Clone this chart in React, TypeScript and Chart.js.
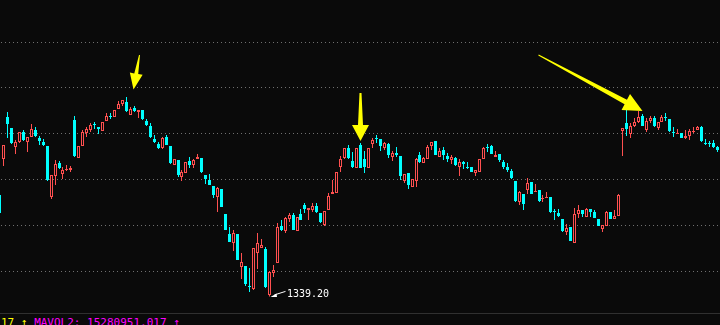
import React, { useEffect, useRef } from "react";
import { Chart, registerables, LinearScale } from "chart.js";

// linear scale that snaps pixel positions to pixel centres (crisp candles)
class SnapLinearScale extends LinearScale {
  static id = "snapLinear";
  static defaults = LinearScale.defaults;
  getPixelForValue(value: number) {
    return Math.floor(super.getPixelForValue(value)) + 0.5;
  }
}

Chart.register(...registerables, SnapLinearScale);

// ---- data (index order, left to right) ----
const opens = [
  1542, 1614, 1698, 1676, 1638, 1648, 1668, 1648, 1658, 1672,
  1656, 1648, 1640, 1538, 1580, 1606, 1584, 1592, 1592, 1692,
  1616, 1640, 1666, 1672, 1684, 1678, 1670, 1690, 1700, 1698,
  1714, 1724, 1728, 1702, 1716, 1708, 1712, 1690, 1680, 1654,
  1644, 1636, 1658, 1640, 1602, 1612, 1578, 1586, 1610, 1602,
  1614, 1616, 1582, 1572, 1560, 1538, 1554, 1504, 1464, 1446,
  1464, 1398, 1400, 1360, 1354, 1426, 1436, 1434, 1342, 1386,
  1406, 1480, 1470, 1494, 1502, 1470, 1504, 1522, 1512, 1512,
  1520, 1506, 1482, 1512, 1544, 1546, 1598, 1616, 1636, 1610,
  1596, 1642, 1614, 1596, 1644, 1656, 1654, 1636, 1644, 1618,
  1626, 1620, 1570, 1586, 1558, 1570, 1622, 1606, 1614, 1640,
  1650, 1618, 1632, 1620, 1612, 1616, 1598, 1608, 1598, 1598,
  1586, 1588, 1614, 1638, 1640, 1618, 1624, 1608, 1598, 1590,
  1570, 1528, 1544, 1552, 1568, 1548, 1552, 1534, 1536, 1538,
  1510, 1506, 1494, 1468, 1478, 1446, 1504, 1512, 1498, 1514,
  1508, 1494, 1474, 1480, 1508, 1494, 1500, 1670, 1686, 1664,
  1680, 1688, 1700, 1672, 1690, 1696, 1676, 1688, 1698, 1694,
  1668, 1664, 1666, 1656, 1660, 1668, 1672, 1678, 1646, 1646,
  1646, 1638,
];
const closes = [
  1506, 1642, 1684, 1646, 1648, 1668, 1652, 1658, 1674, 1660,
  1650, 1642, 1572, 1582, 1604, 1596, 1592, 1594, 1596, 1620,
  1640, 1668, 1674, 1682, 1682, 1674, 1688, 1700, 1698, 1712,
  1724, 1732, 1710, 1714, 1710, 1712, 1694, 1682, 1658, 1648,
  1636, 1656, 1642, 1606, 1614, 1582, 1588, 1608, 1602, 1612,
  1618, 1588, 1574, 1562, 1542, 1556, 1518, 1472, 1448, 1466,
  1412, 1408, 1364, 1358, 1436, 1446, 1442, 1358, 1388, 1392,
  1478, 1472, 1496, 1502, 1472, 1498, 1492, 1514, 1516, 1520,
  1508, 1488, 1510, 1540, 1548, 1588, 1614, 1636, 1616, 1598,
  1636, 1596, 1598, 1636, 1652, 1654, 1640, 1646, 1622, 1626,
  1622, 1580, 1584, 1562, 1574, 1614, 1608, 1616, 1638, 1648,
  1622, 1630, 1622, 1614, 1618, 1602, 1608, 1604, 1596, 1588,
  1592, 1614, 1636, 1636, 1624, 1622, 1612, 1598, 1592, 1576,
  1530, 1548, 1524, 1566, 1544, 1550, 1530, 1536, 1538, 1508,
  1508, 1500, 1470, 1476, 1450, 1504, 1512, 1504, 1514, 1508,
  1496, 1480, 1482, 1508, 1494, 1500, 1542, 1676, 1674, 1680,
  1688, 1698, 1680, 1690, 1696, 1680, 1688, 1698, 1696, 1670,
  1666, 1666, 1656, 1660, 1670, 1670, 1678, 1650, 1644, 1644,
  1638, 1632,
];
const highs = [
  1542, 1642, 1708, 1676, 1652, 1668, 1672, 1658, 1684, 1678,
  1660, 1654, 1640, 1582, 1612, 1610, 1598, 1602, 1600, 1700,
  1640, 1672, 1678, 1686, 1688, 1678, 1688, 1706, 1706, 1712,
  1730, 1732, 1738, 1718, 1720, 1712, 1712, 1694, 1686, 1662,
  1648, 1658, 1662, 1640, 1614, 1612, 1592, 1608, 1618, 1614,
  1624, 1616, 1582, 1584, 1560, 1558, 1554, 1504, 1478, 1472,
  1464, 1426, 1400, 1396, 1436, 1466, 1454, 1438, 1390, 1402,
  1486, 1492, 1498, 1506, 1506, 1498, 1514, 1526, 1516, 1526,
  1526, 1506, 1510, 1546, 1572, 1588, 1620, 1636, 1642, 1628,
  1636, 1646, 1630, 1636, 1656, 1662, 1654, 1648, 1646, 1630,
  1638, 1620, 1584, 1586, 1574, 1616, 1628, 1618, 1642, 1648,
  1650, 1636, 1638, 1626, 1622, 1618, 1614, 1610, 1608, 1598,
  1592, 1614, 1638, 1644, 1642, 1630, 1624, 1612, 1606, 1594,
  1570, 1550, 1544, 1576, 1568, 1564, 1552, 1542, 1548, 1538,
  1514, 1514, 1494, 1484, 1478, 1516, 1522, 1512, 1516, 1514,
  1512, 1494, 1482, 1510, 1508, 1512, 1544, 1676, 1712, 1686,
  1696, 1710, 1704, 1696, 1700, 1700, 1688, 1702, 1706, 1694,
  1678, 1674, 1666, 1672, 1674, 1678, 1680, 1680, 1654, 1650,
  1652, 1640,
];
const lows = [
  1506, 1600, 1656, 1644, 1624, 1646, 1650, 1628, 1658, 1658,
  1642, 1640, 1570, 1534, 1562, 1594, 1574, 1590, 1588, 1618,
  1616, 1640, 1658, 1668, 1674, 1664, 1670, 1690, 1694, 1698,
  1714, 1720, 1708, 1702, 1708, 1696, 1692, 1680, 1656, 1646,
  1634, 1634, 1642, 1604, 1602, 1578, 1570, 1586, 1596, 1596,
  1614, 1586, 1564, 1562, 1536, 1508, 1518, 1472, 1448, 1430,
  1412, 1374, 1360, 1348, 1352, 1394, 1436, 1356, 1339.2, 1378,
  1406, 1470, 1466, 1488, 1472, 1470, 1492, 1506, 1492, 1508,
  1506, 1486, 1480, 1512, 1544, 1546, 1588, 1614, 1614, 1596,
  1596, 1596, 1586, 1596, 1636, 1646, 1630, 1632, 1616, 1610,
  1618, 1572, 1566, 1554, 1558, 1558, 1606, 1606, 1614, 1632,
  1622, 1618, 1612, 1608, 1604, 1600, 1580, 1594, 1594, 1588,
  1580, 1588, 1614, 1628, 1624, 1618, 1608, 1594, 1588, 1574,
  1528, 1522, 1512, 1544, 1544, 1548, 1528, 1528, 1536, 1506,
  1492, 1498, 1468, 1462, 1450, 1446, 1496, 1498, 1498, 1498,
  1496, 1480, 1468, 1480, 1494, 1494, 1500, 1620, 1660, 1656,
  1678, 1686, 1680, 1668, 1686, 1678, 1672, 1688, 1690, 1668,
  1658, 1664, 1656, 1654, 1652, 1666, 1672, 1648, 1642, 1638,
  1636, 1628,
];

// dotted horizontal guide levels (price)
const gridLevels = [1390.6, 1482.6, 1573.4, 1665.4, 1757.4, 1847.4];

// yellow annotation arrows: tail -> tip, in (index, price)
const arrowTails = [[35.24, 1822], [90.9, 1746], [135.75, 1822]];
const arrowTips = [[33.75, 1753], [91.05, 1650], [162.2, 1710]];

const lowLabel = "1339.20";
const footerYellow = "17 \u2191 ";
const footerMagenta = "MAVOL2: 15280951.017 \u2191";

// ---- styles ----
const BG = "#0a0a0a";
const RED = "#ff5050";
const CYAN = "#00ffff";
const GRID = "#707070";
const YELLOW = "#ffff00";
const X_MIN = 0.126;
const X_MAX = 181.626;
const Y_MAX = 1932;
const Y_MIN = 1306;
const arrowStyle = [
  { headLen: 16, headW: 13, tailW: 1, neckW: 4 },
  { headLen: 16, headW: 17, tailW: 2, neckW: 5 },
  { headLen: 19, headW: 18, tailW: 1, neckW: 5 },
];

const gridPlugin = {
  id: "dotGrid",
  beforeDatasetsDraw(chart: any) {
    const { ctx, chartArea, scales } = chart;
    ctx.save();
    ctx.strokeStyle = GRID;
    ctx.lineWidth = 1;
    ctx.setLineDash([1, 3]);
    for (const v of gridLevels) {
      const py = Math.round(scales.y.getPixelForValue(v)) + 0.5;
      ctx.beginPath();
      ctx.moveTo(chartArea.left + 1, py);
      ctx.lineTo(chartArea.right, py);
      ctx.stroke();
    }
    ctx.restore();
  },
};

const arrowPlugin = {
  id: "arrows",
  afterDatasetsDraw(chart: any) {
    const { ctx, scales } = chart;
    const xs = scales.x;
    const ys = scales.y;
    ctx.save();
    ctx.fillStyle = YELLOW;
    arrowTails.forEach((tail, k) => {
      const tip = arrowTips[k];
      const st = arrowStyle[k];
      const tx = xs.getPixelForValue(tail[0]);
      const ty = ys.getPixelForValue(tail[1]);
      const hx = xs.getPixelForValue(tip[0]);
      const hy = ys.getPixelForValue(tip[1]);
      const dx = hx - tx;
      const dy = hy - ty;
      const len = Math.hypot(dx, dy);
      const ux = dx / len;
      const uy = dy / len;
      const nx = -uy;
      const ny = ux;
      const bx = hx - ux * st.headLen;
      const by = hy - uy * st.headLen;
      ctx.beginPath();
      ctx.moveTo(tx + (nx * st.tailW) / 2, ty + (ny * st.tailW) / 2);
      ctx.lineTo(bx + (nx * st.neckW) / 2, by + (ny * st.neckW) / 2);
      ctx.lineTo(bx + (nx * st.headW) / 2, by + (ny * st.headW) / 2);
      ctx.lineTo(hx, hy);
      ctx.lineTo(bx - (nx * st.headW) / 2, by - (ny * st.headW) / 2);
      ctx.lineTo(bx - (nx * st.neckW) / 2, by - (ny * st.neckW) / 2);
      ctx.lineTo(tx - (nx * st.tailW) / 2, ty - (ny * st.tailW) / 2);
      ctx.closePath();
      ctx.fill();
    });
    ctx.restore();
  },
};

const lowLabelPlugin = {
  id: "lowLabel",
  afterDatasetsDraw(chart: any) {
    const { ctx, scales } = chart;
    let mi = 0;
    lows.forEach((v, i) => {
      if (v < lows[mi]) mi = i;
    });
    const px = scales.x.getPixelForValue(mi);
    const py = scales.y.getPixelForValue(lows[mi]);
    ctx.save();
    ctx.strokeStyle = "#ffffff";
    ctx.fillStyle = "#ffffff";
    ctx.lineWidth = 1;
    ctx.beginPath();
    ctx.moveTo(px + 16, py - 5);
    ctx.lineTo(px + 5, py - 1.5);
    ctx.stroke();
    ctx.beginPath();
    ctx.moveTo(px + 1, py + 0.6);
    ctx.lineTo(px + 7, py - 3);
    ctx.lineTo(px + 7.5, py + 0.5);
    ctx.closePath();
    ctx.fill();
    ctx.font = "10px 'DejaVu Sans Mono', monospace";
    ctx.textBaseline = "alphabetic";
    ctx.textAlign = "left";
    ctx.fillText(lowLabel, px + 17.5, py + 0.8);
    ctx.restore();
  },
};

export default function App() {
  const ref = useRef<HTMLCanvasElement>(null);

  useEffect(() => {
    document.body.style.margin = "0";
    document.body.style.background = BG;
    const idx = opens.map((_, i) => i);
    const up = idx.map((i) => closes[i] > opens[i]);
    const chart = new Chart(ref.current as HTMLCanvasElement, {
      type: "bar",
      data: {
        datasets: [
          {
            label: "body",
            data: idx.map((i) => ({
              x: i,
              y: [Math.min(opens[i], closes[i]), Math.max(opens[i], closes[i])],
            })) as any,
            backgroundColor: up.map((u) => (u ? BG : CYAN)),
            borderColor: up.map((u) => (u ? RED : CYAN)),
            borderWidth: up.map((u) => (u ? 1 : 0)),
            borderSkipped: false,
            barThickness: 3,
            grouped: false,
            inflateAmount: 0,
            order: 1,
          } as any,
          {
            label: "wick",
            data: idx.map((i) => ({ x: i, y: [lows[i], highs[i]] })) as any,
            backgroundColor: up.map((u) => (u ? RED : CYAN)),
            borderWidth: 0,
            borderSkipped: false,
            barThickness: 1,
            grouped: false,
            inflateAmount: 0,
            order: 2,
          } as any,
        ],
      },
      options: {
        responsive: false,
        animation: false,
        devicePixelRatio: 1,
        layout: { padding: 0 },
        events: [],
        plugins: {
          legend: { display: false },
          tooltip: { enabled: false },
        },
        scales: {
          x: { type: "snapLinear", min: X_MIN, max: X_MAX, display: false, offset: false },
          y: { type: "linear", min: Y_MIN, max: Y_MAX, display: false },
        },
      } as any,
      plugins: [gridPlugin, arrowPlugin, lowLabelPlugin],
    });
    return () => chart.destroy();
  }, []);

  return (
    <div
      style={{
        position: "fixed",
        left: 0,
        top: 0,
        width: 720,
        height: 325,
        background: BG,
        overflow: "hidden",
      }}
    >
      <canvas ref={ref} width={720} height={313} style={{ display: "block", width: 720, height: 313 }} />
      <div style={{ position: "absolute", left: 0, top: 313, width: 720, height: 1, background: "#303030" }} />
      <div
        style={{
          position: "absolute",
          left: 1,
          top: 317,
          font: "11px 'DejaVu Sans Mono', monospace",
          lineHeight: "11px",
          whiteSpace: "pre",
        }}
      >
        <span style={{ color: YELLOW }}>{footerYellow}</span>
        <span style={{ color: "#ff00ff" }}>{footerMagenta}</span>
      </div>
    </div>
  );
}
